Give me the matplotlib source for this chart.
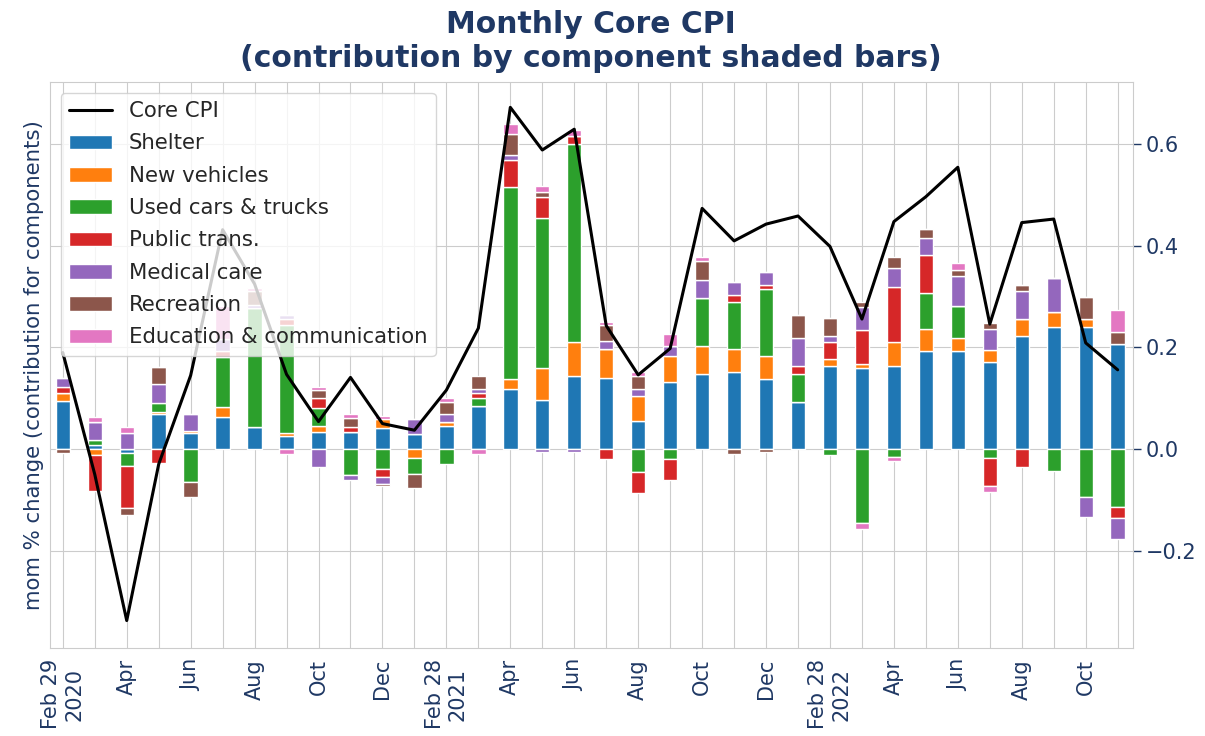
import numpy as np
import matplotlib
matplotlib.use("Agg")
import matplotlib.pyplot as plt
import seaborn as sns

sns.set_style("whitegrid")
plt.rcParams['font.family'] = ['DejaVu Sans']

navy = '#1f3864'

months = ['Feb 29\n2020', '', 'Apr', '', 'Jun', '', 'Aug', '', 'Oct', '', 'Dec', '',
          'Feb 28\n2021', '', 'Apr', '', 'Jun', '', 'Aug', '', 'Oct', '', 'Dec', '',
          'Feb 28\n2022', '', 'Apr', '', 'Jun', '', 'Aug', '', 'Oct', '']

core_cpi = [0.19, -0.05, -0.338, -0.03, 0.145, 0.432, 0.325, 0.147, 0.054, 0.141,
            0.05, 0.037, 0.116, 0.238, 0.673, 0.589, 0.630, 0.243, 0.146, 0.198,
            0.474, 0.410, 0.443, 0.459, 0.399, 0.256, 0.448, 0.497, 0.555, 0.246,
            0.446, 0.453, 0.209, 0.156]

shelter = [0.094, 0.007, -0.007, 0.069, 0.031, 0.063, 0.044, 0.026, 0.034, 0.034,
           0.042, 0.030, 0.046, 0.084, 0.118, 0.097, 0.143, 0.139, 0.055, 0.131,
           0.148, 0.151, 0.138, 0.092, 0.164, 0.159, 0.164, 0.193, 0.193, 0.172,
           0.223, 0.240, 0.240, 0.206]
new_vehicles = [0.016, -0.012, 0.0, 0.004, 0.004, 0.020, 0.0, 0.005, 0.012, 0.0,
                0.018, -0.017, 0.007, 0.0, 0.020, 0.062, 0.067, 0.058, 0.050, 0.053,
                0.054, 0.046, 0.046, 0.0, 0.013, 0.008, 0.046, 0.043, 0.025, 0.024,
                0.033, 0.029, 0.016, 0.0]
used_cars = [0.0, 0.011, -0.026, 0.017, -0.066, 0.099, 0.234, 0.213, 0.034, -0.052,
             -0.040, -0.032, -0.030, 0.016, 0.379, 0.296, 0.391, 0.0, -0.045, -0.020,
             0.096, 0.092, 0.131, 0.055, -0.012, -0.146, -0.016, 0.071, 0.064, -0.017,
             0.0, -0.043, -0.094, -0.114]
public_trans = [0.013, -0.070, -0.084, -0.028, 0.0, 0.012, 0.0, 0.012, 0.020, 0.010,
                -0.015, 0.0, 0.0, 0.010, 0.053, 0.041, 0.016, -0.020, -0.042, -0.041,
                0.0, 0.014, 0.008, 0.017, 0.033, 0.067, 0.110, 0.075, 0.0, -0.055,
                -0.035, 0.0, 0.0, -0.021]
medical = [0.017, 0.035, 0.031, 0.038, 0.034, 0.022, 0.006, 0.007, -0.036, -0.010,
           -0.013, 0.030, 0.015, 0.008, 0.010, -0.005, -0.005, 0.016, 0.013, 0.018,
           0.034, 0.025, 0.026, 0.054, 0.013, 0.045, 0.037, 0.033, 0.059, 0.040,
           0.055, 0.067, -0.040, -0.043]
recreation = [-0.008, 0.0, -0.013, 0.033, -0.029, 0.0, 0.027, 0.0, 0.017, 0.018,
              -0.005, -0.027, 0.025, 0.025, 0.041, 0.010, 0.0, 0.031, 0.026, 0.0,
              0.038, -0.010, -0.005, 0.046, 0.036, 0.011, 0.022, 0.018, 0.012, 0.012,
              0.012, 0.0, 0.043, 0.025]
education = [0.0, 0.010, 0.012, 0.0, 0.0, 0.065, 0.006, -0.010, 0.006, 0.006,
             0.005, 0.0, 0.007, -0.010, 0.020, 0.012, 0.012, 0.007, 0.008, 0.024,
             0.009, 0.0, 0.0, 0.0, 0.0, -0.012, -0.008, 0.0, 0.013, -0.013,
             0.0, 0.0, 0.0, 0.043]

components = [('Shelter', shelter), ('New vehicles', new_vehicles),
              ('Used cars & trucks', used_cars), ('Public trans.', public_trans),
              ('Medical care', medical), ('Recreation', recreation),
              ('Education & communication', education)]
colors = ['#1f77b4', '#ff7f0e', '#2ca02c', '#d62728', '#9467bd', '#8c564b', '#e377c2']

x = np.arange(len(core_cpi))

fig = plt.figure(figsize=(12.05, 7.36), dpi=100)
ax = fig.add_axes([0.0415, 0.1196, 0.8985, 0.769])

# stack positives upward and negatives downward from zero
pos_bottom = np.zeros(len(x))
neg_bottom = np.zeros(len(x))
handles = []
for (name, vals), c in zip(components, colors):
    v = np.array(vals)
    bottom = np.where(v >= 0, pos_bottom, neg_bottom)
    b = ax.bar(x, v, width=0.45, bottom=bottom, color=c, edgecolor='white',
               linewidth=1, label=name, zorder=2)
    handles.append(b)
    pos_bottom += np.clip(v, 0, None)
    neg_bottom += np.clip(v, None, 0)

line, = ax.plot(x, core_cpi, color='black', linewidth=2.2, label='Core CPI', zorder=3)

ax.set_xlim(-0.4, 33.47)
ax.set_ylim(-0.392, 0.723)
ax.set_xticks(x)
ax.set_xticklabels(months, rotation=90, color=navy, fontsize=15)
ax.tick_params(axis='x', length=0, pad=8)
ax.yaxis.tick_right()
ax.yaxis.set_label_position('left')
ax.set_yticks([-0.2, 0.0, 0.2, 0.4, 0.6])
ax.set_yticklabels(['\u22120.2', '0.0', '0.2', '0.4', '0.6'])
ax.tick_params(axis='y', colors=navy, labelsize=15, length=6, width=1, right=True)
ax.set_ylabel('mom % change (contribution for components)', color=navy, fontsize=15.3)

ax.set_title('Monthly Core CPI\n(contribution by component shaded bars)',
             fontsize=21.5, fontweight='bold', color=navy, pad=11)

ax.legend([line] + handles, ['Core CPI'] + [n for n, _ in components],
          loc='upper left', fontsize=15.3, framealpha=0.8, labelspacing=0.58)

fig.savefig('out.png', dpi=100)
